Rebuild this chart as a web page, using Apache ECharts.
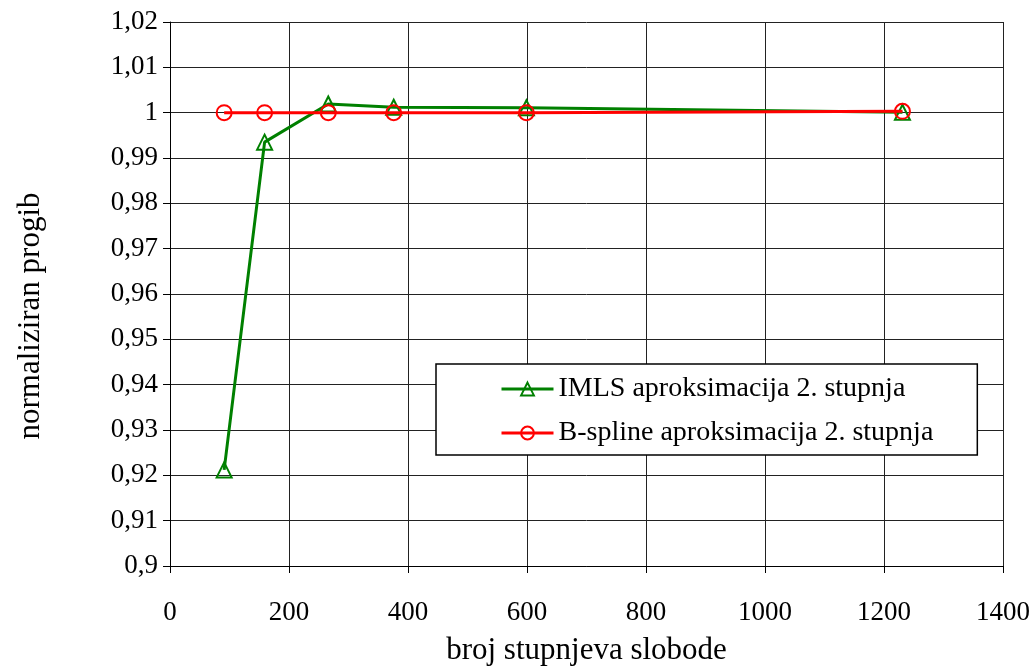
<!DOCTYPE html>
<html>
<head>
<meta charset="utf-8">
<script src="https://cdn.jsdelivr.net/npm/echarts@6/dist/echarts.min.js"></script>
<style>html,body{margin:0;padding:0;background:#fff}#c{width:1032px;height:666px}</style>
</head>
<body>
<div id="c"></div>
<script>
const xImls = [91, 159, 266, 376, 599, 1231];
const yImls = [0.9212, 0.9935, 1.0019, 1.0012, 1.0011, 1.0001];
const xBspline = [91, 159, 266, 376, 599, 1231];
const yBspline = [1.0, 1.0, 1.0, 1.0, 1.0, 1.0003];
const seriesNames = ['IMLS aproksimacija 2. stupnja', 'B-spline aproksimacija 2. stupnja'];
const yTickLabels = ['0,9','0,91','0,92','0,93','0,94','0,95','0,96','0,97','0,98','0,99','1','1,01','1,02'];
const xTickLabels = ['0','200','400','600','800','1000','1200','1400'];
const xTitle = 'broj stupnjeva slobode';
const yTitle = 'normaliziran progib';

const font = 'Liberation Serif';
const chart = echarts.init(document.getElementById('c'), null, {renderer: 'canvas'});
chart.setOption({
  animation: false,
  backgroundColor: '#fff',
  grid: {left: 170, right: 29, top: 22, bottom: 100, containLabel: false, outerBoundsMode: 'none'},
  xAxis: {
    type: 'value', min: 0, max: 1400, interval: 200,
    name: xTitle, nameLocation: 'middle', nameGap: 69,
    nameTextStyle: {fontFamily: font, fontSize: 31, color: '#000'},
    axisLine: {show: true, lineStyle: {color: '#000', width: 1}},
    axisTick: {show: true, length: 7, lineStyle: {color: '#000'}},
    axisLabel: {fontFamily: font, fontSize: 27, color: '#000', margin: 33,
      formatter: (v, i) => xTickLabels[Math.round(v / 200)]},
    splitLine: {show: true, lineStyle: {color: '#222', width: 1}}
  },
  yAxis: {
    type: 'value', min: 0.9, max: 1.02, interval: 0.01,
    name: yTitle, nameLocation: 'middle', nameGap: 124, nameRotate: 90,
    nameTextStyle: {fontFamily: font, fontSize: 31, color: '#000', padding: [0, 44, 0, 0]},
    axisLine: {show: true, lineStyle: {color: '#000', width: 1}},
    axisTick: {show: true, length: 7, lineStyle: {color: '#000'}},
    axisLabel: {fontFamily: font, fontSize: 27, color: '#000', margin: 12,
      formatter: (v) => yTickLabels[Math.round((v - 0.9) / 0.01)]},
    splitLine: {show: true, lineStyle: {color: '#222', width: 1}}
  },
  legend: {
    show: true, orient: 'vertical', left: 436, top: 364,
    backgroundColor: '#fff', borderColor: '#000', borderWidth: 1.5,
    padding: [11, 44, 8, 64], itemGap: 16, itemWidth: 52, itemHeight: 16,
    lineStyle: {width: 3},
    textStyle: {fontFamily: font, fontSize: 28, color: '#000'},
    data: seriesNames
  },
  series: [
    {
      name: seriesNames[0], type: 'line',
      data: xImls.map((x, i) => [x, yImls[i]]),
      symbol: 'triangle', symbolSize: 15,
      lineStyle: {color: '#008000', width: 3},
      itemStyle: {color: 'rgba(0,0,0,0)', borderColor: '#008000', borderWidth: 2},
      z: 2
    },
    {
      name: seriesNames[1], type: 'line',
      data: xBspline.map((x, i) => [x, yBspline[i]]),
      symbol: 'circle', symbolSize: 15,
      lineStyle: {color: '#ff0000', width: 3},
      itemStyle: {color: 'rgba(0,0,0,0)', borderColor: '#ff0000', borderWidth: 2},
      z: 3
    }
  ]
});
</script>
</body>
</html>
